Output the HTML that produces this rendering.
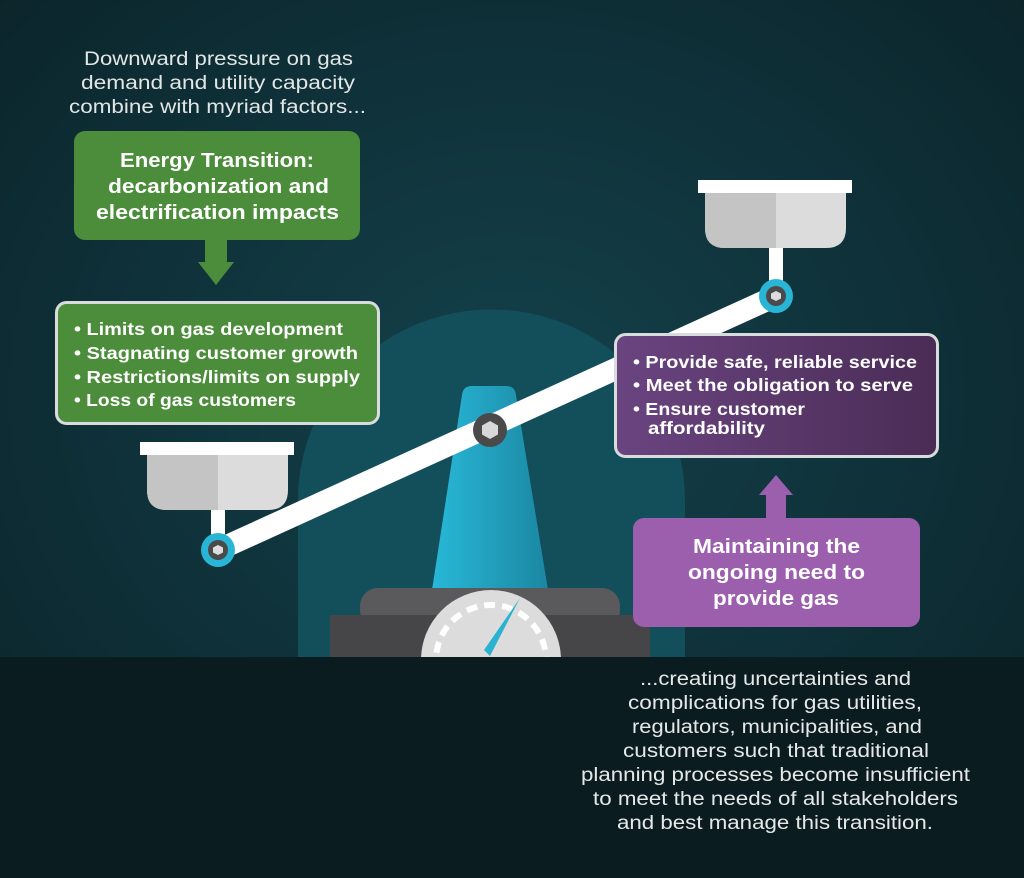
<!DOCTYPE html>
<html><head><meta charset="utf-8"><style>
html,body{margin:0;padding:0;background:#0c2227;}
svg{display:block;}
text{font-family:"Liberation Sans",sans-serif;}
</style></head><body>
<svg width="1024" height="878" viewBox="0 0 1024 878" xmlns="http://www.w3.org/2000/svg">
<defs>
<radialGradient id="bg" cx="0.5" cy="0.45" r="0.7">
<stop offset="0" stop-color="#14414b"/><stop offset="1" stop-color="#0b242a"/>
</radialGradient>
<linearGradient id="cone" x1="0" y1="0" x2="1" y2="0">
<stop offset="0" stop-color="#28b8d8"/><stop offset="1" stop-color="#1b87a2"/>
</linearGradient>
<linearGradient id="pur" x1="0" y1="0" x2="1" y2="0">
<stop offset="0" stop-color="#6a4480"/><stop offset="1" stop-color="#4a2c55"/>
</linearGradient>
<clipPath id="above"><rect x="0" y="0" width="1024" height="657"/></clipPath>
</defs>
<rect width="1024" height="878" fill="url(#bg)"/>
<path d="M298 657 L298 500 A193 190 0 0 1 685 500 L685 657 Z" fill="#134f5b"/>
<path d="M462 395 Q463 386 472 386 L506 386 Q515 386 516 395 L548 590 L432 590 Z" fill="url(#cone)"/>
<rect x="360" y="588" width="260" height="40" rx="18" fill="#5a5a5c"/>
<rect x="330" y="615" width="320" height="45" fill="#464648"/>
<g clip-path="url(#above)">
<circle cx="491" cy="660" r="70" fill="#dcdcdc"/>
<circle cx="491" cy="660" r="55" fill="none" stroke="#fff" stroke-width="6" stroke-dasharray="11 7"/>
<polygon points="484,650 490,656 520,598" fill="#2bb2d0"/>
</g>
<rect x="0" y="657" width="1024" height="221" fill="#0b1c20"/>
<line x1="218" y1="550" x2="776" y2="296" stroke="#fff" stroke-width="22"/>
<circle cx="490" cy="430" r="17" fill="#4a4a4a"/>
<polygon points="490,421 498,425.5 498,434.5 490,439 482,434.5 482,425.5" fill="#d8d8d8"/>
<rect x="211" y="505" width="14" height="40" fill="#fff"/>
<path d="M147 455 L288 455 L288 490 Q288 510 268 510 L167 510 Q147 510 147 490 Z" fill="#dcdcdc"/>
<path d="M147 455 L218 455 L218 510 L167 510 Q147 510 147 490 Z" fill="#c4c4c4"/>
<rect x="140" y="442" width="154" height="13" fill="#fff"/>
<circle cx="218" cy="550" r="17" fill="#29b6d6"/>
<circle cx="218" cy="550" r="10" fill="#4a4a4a"/>
<polygon points="218,545 223,547.5 223,552.5 218,555 213,552.5 213,547.5" fill="#ddd"/>
<rect x="769" y="245" width="14" height="40" fill="#fff"/>
<path d="M705 193 L846 193 L846 228 Q846 248 826 248 L725 248 Q705 248 705 228 Z" fill="#dcdcdc"/>
<path d="M705 193 L776 193 L776 248 L725 248 Q705 248 705 228 Z" fill="#c4c4c4"/>
<rect x="698" y="180" width="154" height="13" fill="#fff"/>
<circle cx="776" cy="296" r="17" fill="#29b6d6"/>
<circle cx="776" cy="296" r="10" fill="#4a4a4a"/>
<polygon points="776,291 781,293.5 781,298.5 776,301 771,298.5 771,293.5" fill="#ddd"/>
<g fill="#e2e6e6" font-size="19" lengthAdjust="spacingAndGlyphs">
<text x="84" y="65" textLength="269" lengthAdjust="spacingAndGlyphs">Downward pressure on gas</text>
<text x="81" y="89" textLength="274" lengthAdjust="spacingAndGlyphs">demand and utility capacity</text>
<text x="69" y="113" textLength="297" lengthAdjust="spacingAndGlyphs">combine with myriad factors...</text>
</g>
<rect x="74" y="131" width="286" height="109" rx="11" fill="#4b8d3a"/>
<g fill="#fff" font-size="20" font-weight="bold">
<text x="120" y="167" textLength="194" lengthAdjust="spacingAndGlyphs">Energy Transition:</text>
<text x="108" y="193" textLength="221" lengthAdjust="spacingAndGlyphs">decarbonization and</text>
<text x="96" y="219" textLength="243" lengthAdjust="spacingAndGlyphs">electrification impacts</text>
</g>
<polygon points="205,240 227,240 227,262 234,262 216,285 198,262 205,262" fill="#4b8d3a"/>
<rect x="56.5" y="302.5" width="322" height="121" rx="10" fill="#4b8d3a" stroke="#d8dcdc" stroke-width="3"/>
<g fill="#fff" font-size="17.5" font-weight="bold">
<text x="74" y="335" textLength="269" lengthAdjust="spacingAndGlyphs">• Limits on gas development</text>
<text x="74" y="359" textLength="284" lengthAdjust="spacingAndGlyphs">• Stagnating customer growth</text>
<text x="74" y="383" textLength="286" lengthAdjust="spacingAndGlyphs">• Restrictions/limits on supply</text>
<text x="74" y="406" textLength="222" lengthAdjust="spacingAndGlyphs">• Loss of gas customers</text>
</g>
<rect x="615.5" y="334.5" width="322" height="122" rx="10" fill="url(#pur)" stroke="#d8dcdc" stroke-width="3"/>
<g fill="#fff" font-size="17.5" font-weight="bold">
<text x="633" y="368" textLength="284" lengthAdjust="spacingAndGlyphs">• Provide safe, reliable service</text>
<text x="633" y="391" textLength="280" lengthAdjust="spacingAndGlyphs">• Meet the obligation to serve</text>
<text x="633" y="415" textLength="172" lengthAdjust="spacingAndGlyphs">• Ensure customer</text>
<text x="648" y="434" textLength="117" lengthAdjust="spacingAndGlyphs">affordability</text>
</g>
<polygon points="776,475 793,495 786,495 786,520 766,520 766,495 759,495" fill="#9b5fae"/>
<rect x="633" y="518" width="287" height="109" rx="11" fill="#9b5fae"/>
<g fill="#fff" font-size="20" font-weight="bold">
<text x="693" y="553" textLength="167" lengthAdjust="spacingAndGlyphs">Maintaining the</text>
<text x="688" y="579" textLength="177" lengthAdjust="spacingAndGlyphs">ongoing need to</text>
<text x="713" y="605" textLength="126" lengthAdjust="spacingAndGlyphs">provide gas</text>
</g>
<g fill="#e6e8e8" font-size="19">
<text x="640" y="685" textLength="271" lengthAdjust="spacingAndGlyphs">...creating uncertainties and</text>
<text x="628" y="709" textLength="294" lengthAdjust="spacingAndGlyphs">complications for gas utilities,</text>
<text x="632" y="733" textLength="290" lengthAdjust="spacingAndGlyphs">regulators, municipalities, and</text>
<text x="623" y="757" textLength="306" lengthAdjust="spacingAndGlyphs">customers such that traditional</text>
<text x="581" y="781" textLength="389" lengthAdjust="spacingAndGlyphs">planning processes become insufficient</text>
<text x="593" y="805" textLength="365" lengthAdjust="spacingAndGlyphs">to meet the needs of all stakeholders</text>
<text x="617" y="829" textLength="316" lengthAdjust="spacingAndGlyphs">and best manage this transition.</text>
</g>
</svg>
</body></html>
